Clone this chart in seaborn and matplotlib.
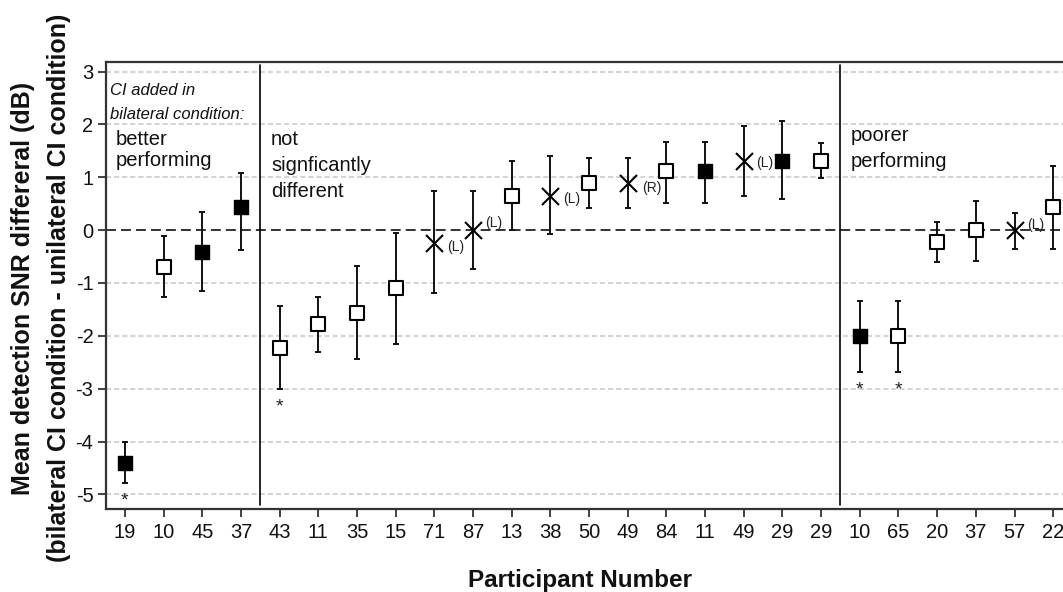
import matplotlib
matplotlib.use("Agg")
import matplotlib.pyplot as plt
import seaborn as sns
import numpy as np
import pandas as pd

# ---------------- data ----------------
participants = ["19", "10", "45", "37", "43", "11", "35", "15", "71", "87", "13", "38",
                "50", "49", "84", "11", "49", "29", "29", "10", "65", "20", "37", "57", "22"]
means = [-4.40, -0.69, -0.41, 0.44, -2.23, -1.77, -1.57, -1.10, -0.24, 0.00, 0.65, 0.65,
         0.90, 0.90, 1.11, 1.11, 1.30, 1.31, 1.31, -2.01, -2.01, -0.23, 0.00, 0.00, 0.44]
upper = [-4.00, -0.11, 0.35, 1.08, -1.44, -1.26, -0.68, -0.05, 0.74, 0.74, 1.31, 1.40,
         1.36, 1.36, 1.67, 1.67, 1.97, 2.06, 1.64, -1.35, -1.35, 0.16, 0.56, 0.32, 1.22]
lower = [-4.79, -1.26, -1.16, -0.38, -3.01, -2.31, -2.43, -2.16, -1.19, -0.74, 0.00, -0.07,
         0.41, 0.41, 0.52, 0.52, 0.65, 0.59, 0.98, -2.68, -2.68, -0.61, -0.59, -0.36, -0.36]
kinds = ["filled", "open", "filled", "filled", "open", "open", "open", "open", "cross", "cross",
         "open", "cross", "open", "cross", "open", "filled", "cross", "filled", "open",
         "filled", "open", "open", "open", "cross", "open"]
side_labels = ["", "", "", "", "", "", "", "", "(L)", "(L)", "", "(L)", "", "(R)", "", "", "(L)",
               "", "", "", "", "", "", "(L)", ""]
significant = [True, False, False, False, True, False, False, False, False, False, False, False,
               False, False, False, False, False, False, False, True, True, False, False, False, False]
y_ticks = [3, 2, 1, 0, -1, -2, -3, -4, -5]
group_bounds = [3.5, 18.5]
group_notes = ["CI added in\nbilateral condition:", "better\nperforming",
               "not\nsignficantly\ndifferent", "poorer\nperforming"]

# ---------------- style ----------------
sns.set_style("white")
plt.rcParams["font.family"] = ["Liberation Sans", "DejaVu Sans"]
plt.rcParams["axes.unicode_minus"] = False

df = pd.DataFrame({"pos": np.arange(len(participants)), "mean": means,
                   "upper": upper, "lower": lower, "kind": kinds})

fig = plt.figure(figsize=(10.63, 5.92), dpi=100)
ax = fig.add_axes([106 / 1063, 1 - 508.7 / 592, (1076 - 106) / 1063, (508.7 - 62) / 592])

# grid + zero line
for v in y_ticks:
    if v != 0:
        ax.axhline(v, color="#c8c8c8", lw=1.1, ls=(0, (3.3, 2.0)), zorder=0)
ax.axhline(0, color="#222222", lw=1.3, ls=(0, (5.5, 2.8)), zorder=1)

# error bars
ax.errorbar(df["pos"], df["mean"],
            yerr=[df["mean"] - df["lower"], df["upper"] - df["mean"]],
            fmt="none", ecolor="#111111", elinewidth=1.4, capsize=2.5, capthick=1.4, zorder=2)

# markers
d_open = df[df["kind"] == "open"]
d_fill = df[df["kind"] == "filled"]
d_cross = df[df["kind"] == "cross"]
sns.scatterplot(data=d_open, x="pos", y="mean", ax=ax, marker="s", s=92,
                facecolor="white", edgecolor="black", linewidth=1.5, zorder=3)
sns.scatterplot(data=d_fill, x="pos", y="mean", ax=ax, marker="s", s=110,
                color="black", edgecolor="black", linewidth=1.0, zorder=3)
sns.scatterplot(data=d_cross, x="pos", y="mean", ax=ax, marker="x", s=150,
                color="black", linewidth=1.5, zorder=3)

# (L)/(R) labels
label_offsets = {8: (9, -3), 9: (9, 5), 11: (9, -2), 13: (10, -4), 16: (9, -1), 23: (9, 4)}
for i, lab in enumerate(side_labels):
    if lab:
        dx, dy = label_offsets.get(i, (9, 0))
        ax.annotate(lab, (i, means[i]), xytext=(dx, dy), textcoords="offset points",
                    ha="left", va="center", fontsize=10, color="#222222")

# significance stars
for i, sig in enumerate(significant):
    if sig:
        ax.annotate("*", (i, lower[i]), xytext=(0, -16), textcoords="offset points",
                    ha="center", va="baseline", fontsize=14, color="#222222")

# group separators
for b in group_bounds:
    ax.axvline(b, ymin=0.008, ymax=0.993, color="black", lw=1.2, zorder=1)

# group texts (position: x, top y, linespacing)
ax.text(-0.39, 2.79, group_notes[0], fontsize=12, style="italic", ha="left", va="top",
        linespacing=1.75, color="#111111")
ax.text(-0.23, 1.89, group_notes[1], fontsize=14.5, ha="left", va="top",
        linespacing=1.12, color="#111111")
ax.text(3.78, 1.89, group_notes[2], fontsize=14.5, ha="left", va="top",
        linespacing=1.45, color="#111111")
ax.text(18.77, 1.96, group_notes[3], fontsize=14.5, ha="left", va="top",
        linespacing=1.45, color="#111111")

# axes
ax.set_xlim(-0.49, 24.59)
ax.set_ylim(-5.27, 3.18)
ax.set_xticks(range(len(participants)))
ax.set_xticklabels(participants, fontsize=14.5, color="#111111")
ax.set_yticks(y_ticks)
ax.set_yticklabels([str(v) for v in y_ticks], fontsize=14.5, color="#111111")
ax.tick_params(axis="both", direction="out", length=6, width=1.3, color="#333333",
               bottom=True, left=True, pad=3)
ax.tick_params(axis="x", pad=4)
for s in ["left", "bottom", "top"]:
    ax.spines[s].set_color("#333333")
    ax.spines[s].set_linewidth(1.6)
ax.spines["right"].set_visible(False)

ax.set_xlabel("Participant Number", fontsize=17.5, fontweight="bold", color="#111111")
ax.xaxis.set_label_coords((580 - 106) / (1076 - 106), -(580 - 508.7) / (508.7 - 62))
ax.xaxis.label.set_va("center")
ax.set_ylabel("Mean detection SNR differeral (dB)\n(bilateral CI condition - unilateral CI condition)",
              fontsize=18, fontweight="bold", color="#111111", linespacing=1.65)
ax.yaxis.set_label_coords(-(106 - 41) / (1076 - 106), (508.7 - 288) / (508.7 - 62))
ax.yaxis.label.set_va("center")

fig.savefig("out.png", dpi=100)
